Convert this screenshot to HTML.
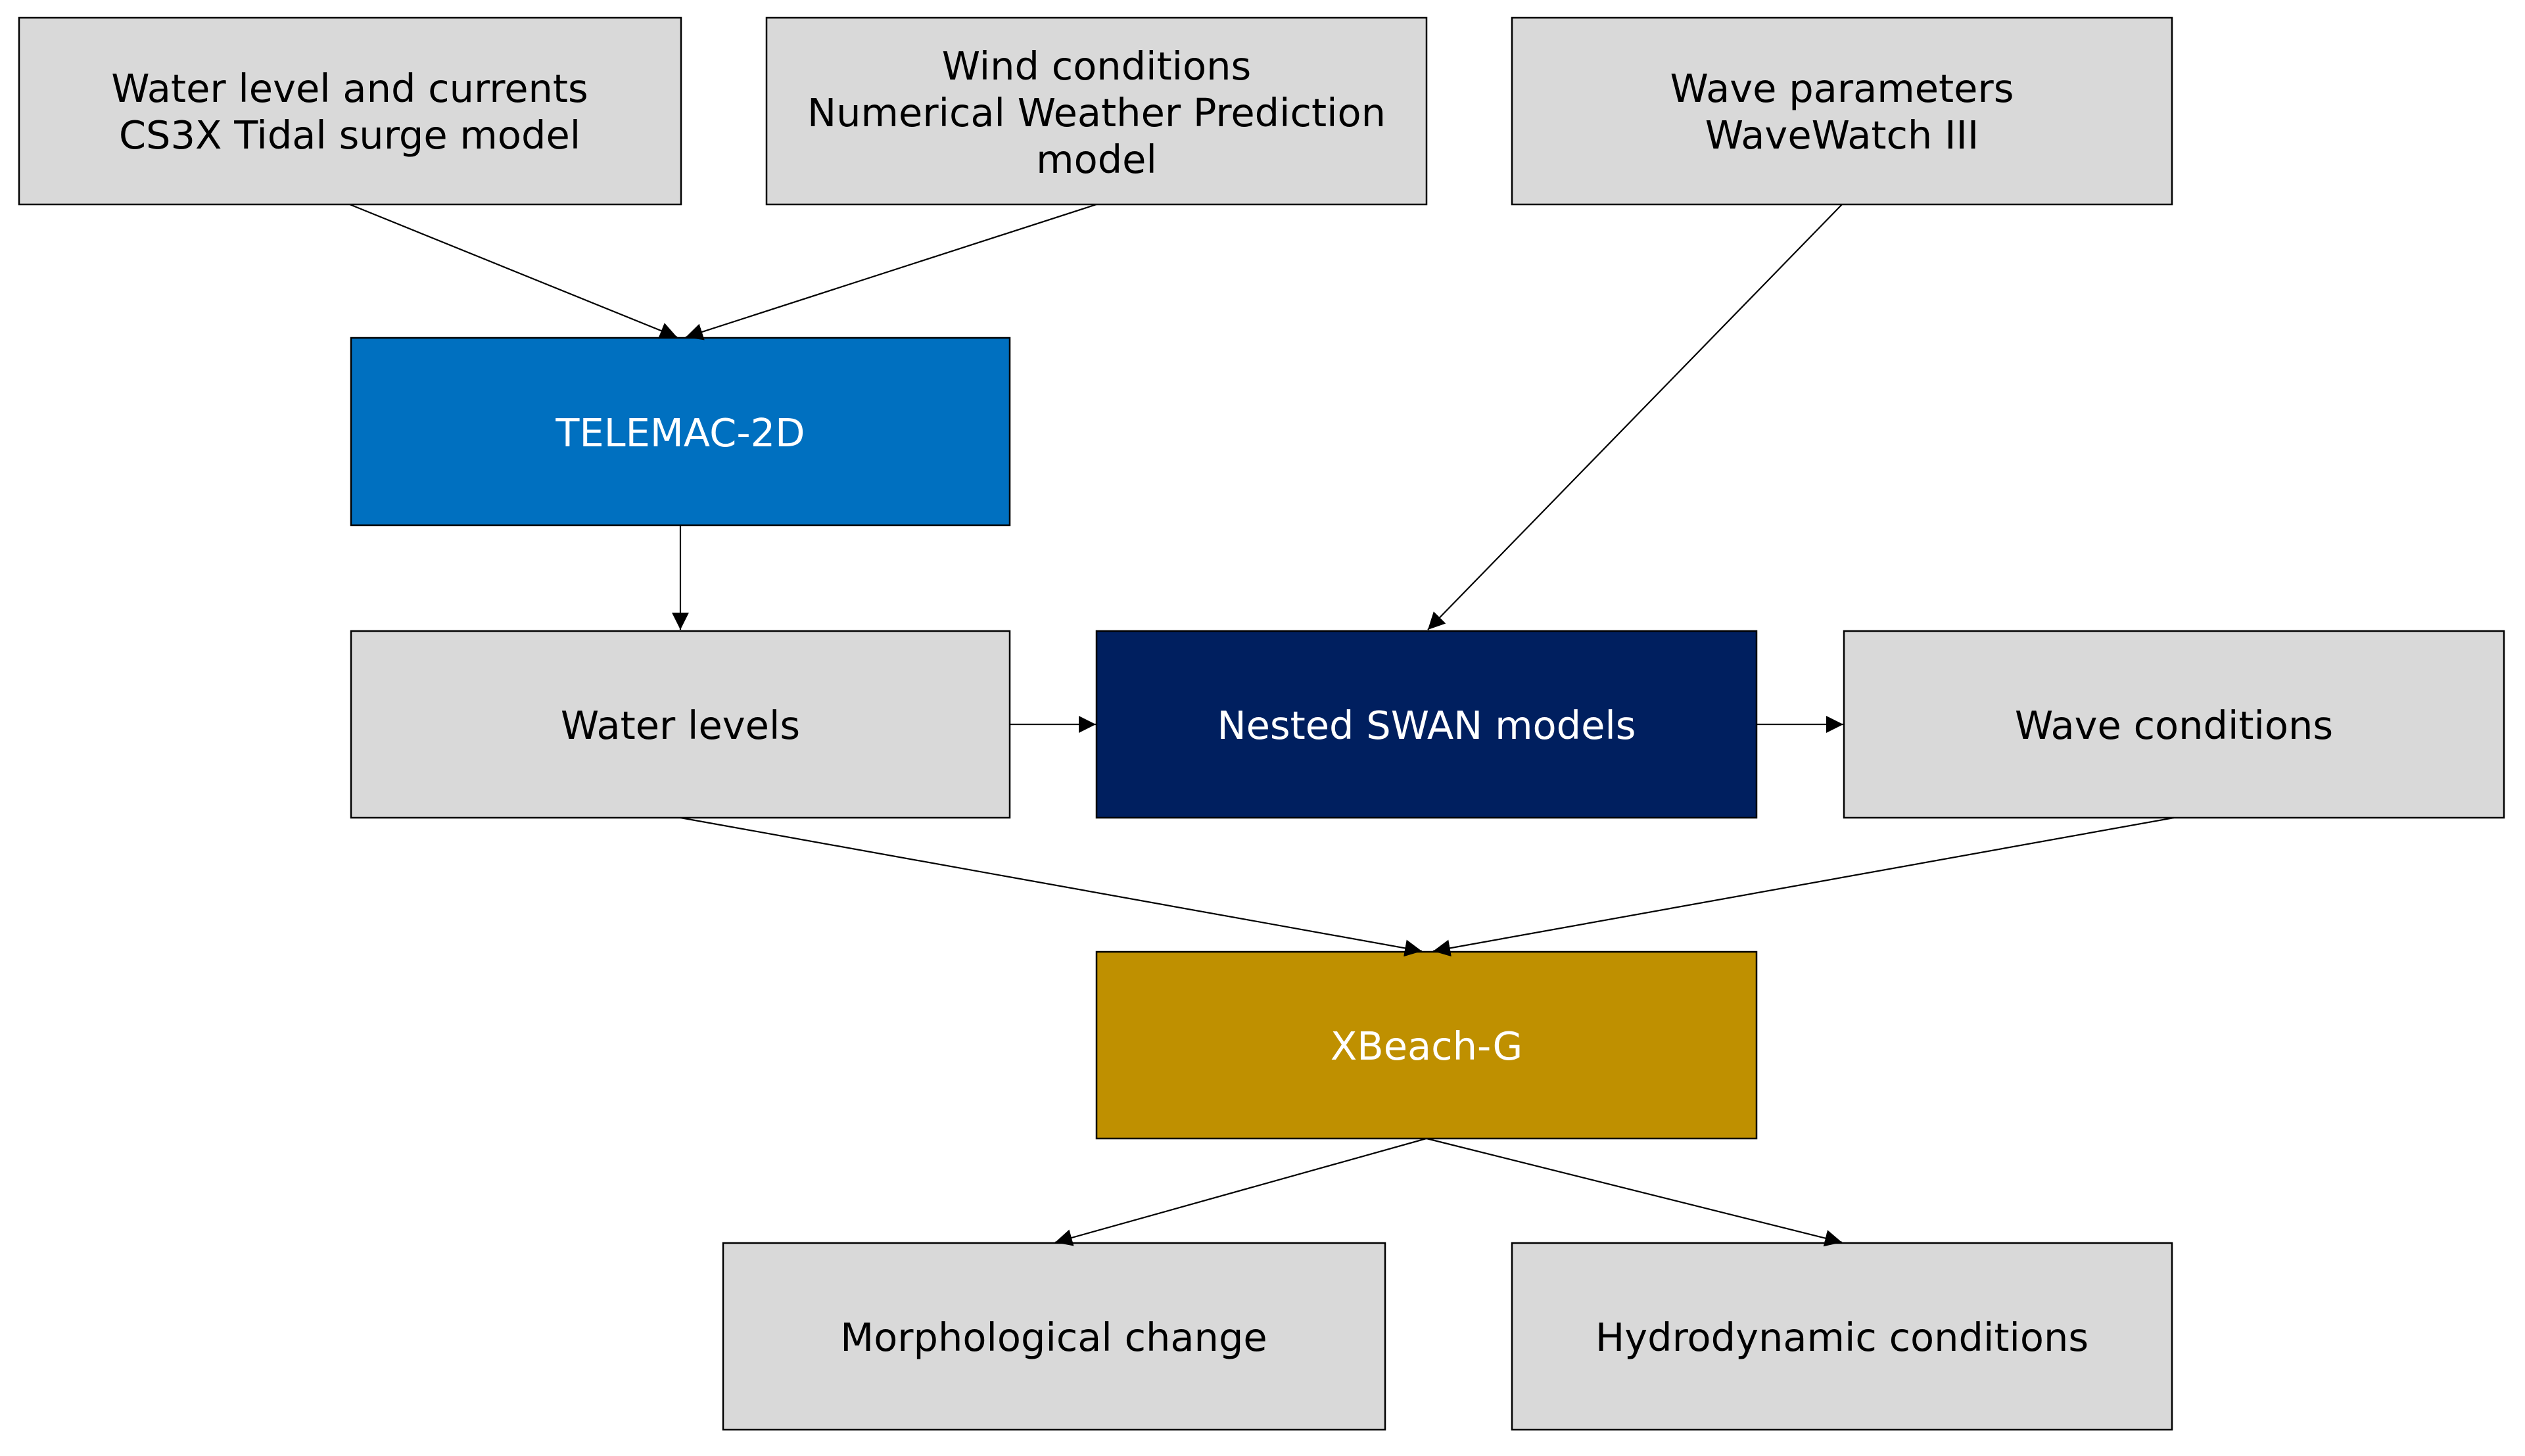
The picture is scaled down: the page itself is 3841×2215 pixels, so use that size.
<!DOCTYPE html>
<html><head><meta charset="utf-8"><style>
html,body{margin:0;padding:0;background:#fff;}
svg{display:block;}
text{font-family:"DejaVu Sans","Liberation Sans",sans-serif;font-size:59px;text-anchor:middle;}
</style></head><body>
<svg width="3841" height="2215" viewBox="0 0 3841 2215" xmlns="http://www.w3.org/2000/svg">
<defs><marker id="a" viewBox="0 0 10 10" refX="10" refY="5" markerWidth="26" markerHeight="26" markerUnits="userSpaceOnUse" orient="auto"><path d="M0,0L10,5L0,10z" fill="#000"/></marker></defs>
<g stroke="#000" stroke-width="2.5">
<rect x="29" y="27" width="1007" height="284" fill="#d9d9d9"/>
<rect x="1166" y="27" width="1004" height="284" fill="#d9d9d9"/>
<rect x="2300" y="27" width="1004" height="284" fill="#d9d9d9"/>
<rect x="534" y="514" width="1002" height="285" fill="#0070c0"/>
<rect x="534" y="960" width="1002" height="284" fill="#d9d9d9"/>
<rect x="1668" y="960" width="1004" height="284" fill="#001f5f"/>
<rect x="2805" y="960" width="1004" height="284" fill="#d9d9d9"/>
<rect x="1668" y="1448" width="1004" height="284" fill="#bf9000"/>
<rect x="1100" y="1891" width="1007" height="284" fill="#d9d9d9"/>
<rect x="2300" y="1891" width="1004" height="284" fill="#d9d9d9"/>
</g>
<g stroke="#000" stroke-width="2.2" fill="none" marker-end="url(#a)">
<line x1="532" y1="311" x2="1030" y2="513"/>
<line x1="1668" y1="311" x2="1043" y2="513"/>
<line x1="2802" y1="311" x2="2172" y2="958"/>
<line x1="1035" y1="799" x2="1035" y2="958"/>
<line x1="1536" y1="1102" x2="1667" y2="1102"/>
<line x1="2672" y1="1102" x2="2804" y2="1102"/>
<line x1="1035" y1="1244" x2="2163" y2="1447"/>
<line x1="3307" y1="1244" x2="2180" y2="1447"/>
<line x1="2170" y1="1732" x2="1605" y2="1890"/>
<line x1="2170" y1="1732" x2="2802" y2="1890"/>
</g>
<g fill="#000">
<text x="532" y="155">Water level and currents</text>
<text x="532" y="226">CS3X Tidal surge model</text>
<text x="1668" y="121">Wind conditions</text>
<text x="1668" y="192">Numerical Weather Prediction</text>
<text x="1668" y="263">model</text>
<text x="2802" y="155">Wave parameters</text>
<text x="2802" y="226">WaveWatch III</text>
<text x="1035" y="1124">Water levels</text>
<text x="3307" y="1124">Wave conditions</text>
<text x="1603" y="2055">Morphological change</text>
<text x="2802" y="2055">Hydrodynamic conditions</text>
</g>
<g fill="#fff">
<text x="1035" y="679">TELEMAC-2D</text>
<text x="2170" y="1124">Nested SWAN models</text>
<text x="2170" y="1612">XBeach-G</text>
</g>
</svg>
</body></html>
